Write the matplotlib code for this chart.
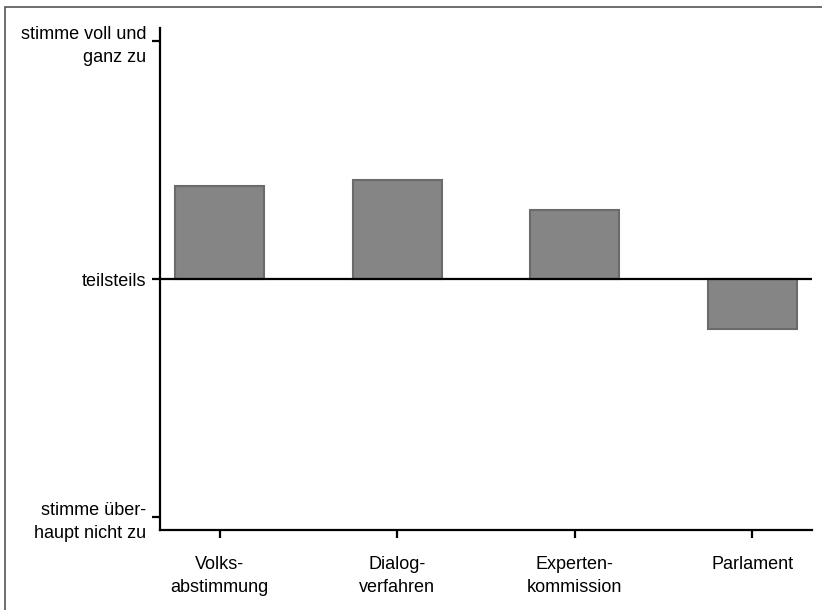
import matplotlib
matplotlib.use("Agg")
import matplotlib.pyplot as plt
from matplotlib.patches import Rectangle

plt.rcParams['font.family'] = ['Liberation Sans', 'DejaVu Sans']

# === Data ===
categories = ['Volks-\nabstimmung', 'Dialog-\nverfahren', 'Experten-\nkommission', 'Parlament']
means = [3.78, 3.83, 3.58, 2.58]
midpoint = 3
y_ticks = [1, 3, 5]
y_labels = ['stimme über-\nhaupt nicht zu', 'teilsteils', 'stimme voll und\nganz zu']

fig = plt.figure(figsize=(8.22, 6.10), dpi=100)
ax = fig.add_axes([160 / 822, (610 - 530) / 610, (812 - 160) / 822, (530 - 28) / 610])

x = list(range(len(categories)))
heights = [m - midpoint for m in means]
ax.bar(x, heights, bottom=midpoint, width=0.5, color='#858585',
       edgecolor='#6b6b6b', linewidth=1.5, zorder=2)
ax.axhline(midpoint, color='black', linewidth=1.6, zorder=3)

ax.set_xlim(-0.335, 3.335)
ax.set_ylim(0.89, 5.11)
ax.set_xticks(x)
ax.set_xticklabels(categories, fontsize=13, linespacing=1.45)
ax.set_yticks(y_ticks)
ax.set_yticklabels(y_labels, fontsize=13, ha='right', linespacing=1.45)

for side in ['top', 'right']:
    ax.spines[side].set_visible(False)
for side in ['left', 'bottom']:
    ax.spines[side].set_linewidth(1.6)
ax.tick_params(axis='both', direction='out', length=6, width=1.6, color='black')
ax.tick_params(axis='x', pad=13)
ax.tick_params(axis='y', pad=4)

# frame of the original screenshot (only left and top edges visible)
fig.patches.append(Rectangle((4.5 / 822, -0.1), 1.2, (610 - 6.5) / 610 + 0.1,
                             transform=fig.transFigure, fill=False,
                             edgecolor='#555555', linewidth=1.2))

fig.savefig('out.png', dpi=100)
